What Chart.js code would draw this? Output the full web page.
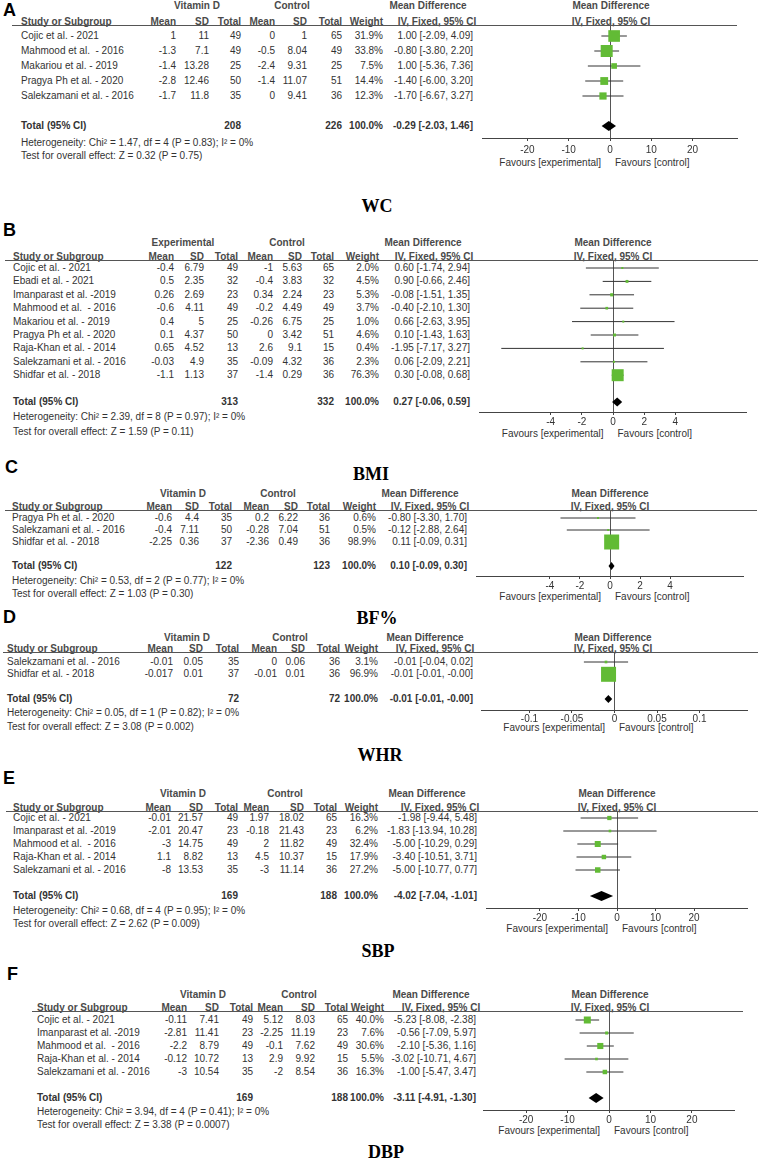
<!DOCTYPE html>
<html><head><meta charset="utf-8">
<script src="https://cdn.jsdelivr.net/npm/chart.js@4.4.1/dist/chart.umd.min.js"></script>
<style>
html,body{margin:0;padding:0;background:#fff;}
#root{position:relative;width:758px;height:1160px;overflow:hidden;background:#fff;font-family:"Liberation Sans",Arial,sans-serif;}
.t{position:absolute;white-space:pre;font-size:10px;line-height:12px;color:#333;}
.b{font-weight:bold;}
.h{font-weight:bold;color:#4a4a4a;}
.letter{font-size:18px;line-height:20px;font-weight:bold;color:#000;}
.title{font-family:"Liberation Serif","Times New Roman",serif;font-size:18px;line-height:20px;font-weight:bold;color:#000;}
.hl{position:absolute;height:1px;background:#555;}
</style></head>
<body><div id="root"></div>
<script>
// ---------------- DATA ----------------
// Panel A : WC
const wcStudies = ["Cojic et al. - 2021","Mahmood et al.  - 2016","Makariou et al. - 2019","Pragya Ph et al. - 2020","Salekzamani et al. - 2016"];
const wcVitMean = [1, -1.3, -1.4, -2.8, -1.7];
const wcVitSD   = [11, 7.1, 13.28, 12.46, 11.8];
const wcVitN    = [49, 49, 25, 50, 35];
const wcCtlMean = [0, -0.5, -2.4, -1.4, 0];
const wcCtlSD   = [1, 8.04, 9.31, 11.07, 9.41];
const wcCtlN    = [65, 49, 25, 51, 36];
const wcWeight  = [31.9, 33.8, 7.5, 14.4, 12.3];
const wcMD      = [1.00, -0.80, 1.00, -1.40, -1.70];
const wcLow     = [-2.09, -3.80, -5.36, -6.00, -6.67];
const wcHigh    = [4.09, 2.20, 7.36, 3.20, 3.27];
const wcTotal   = [-0.29, -2.03, 1.46];
const wcTotN    = [208, 226];
const wcHet     = "Heterogeneity: Chi\u00B2 = 1.47, df = 4 (P = 0.83); I\u00B2 = 0%";
const wcTest    = "Test for overall effect: Z = 0.32 (P = 0.75)";
const wcTicks   = [-20, -10, 0, 10, 20];

// Panel B : BMI
const bmiStudies = ["Cojic et al. - 2021","Ebadi et al. - 2021","Imanparast et al. -2019","Mahmood et al.  - 2016","Makariou et al. - 2019","Pragya Ph et al. - 2020","Raja-Khan et al. - 2014","Salekzamani et al. - 2016","Shidfar et al. - 2018"];
const bmiVitMean = [-0.4, 0.5, 0.26, -0.6, 0.4, 0.1, 0.65, -0.03, -1.1];
const bmiVitSD   = [6.79, 2.35, 2.69, 4.11, 5, 4.37, 4.52, 4.9, 1.13];
const bmiVitN    = [49, 32, 23, 49, 25, 50, 13, 35, 37];
const bmiCtlMean = [-1, -0.4, 0.34, -0.2, -0.26, 0, 2.6, -0.09, -1.4];
const bmiCtlSD   = [5.63, 3.83, 2.24, 4.49, 6.75, 3.42, 9.1, 4.32, 0.29];
const bmiCtlN    = [65, 32, 23, 49, 25, 51, 15, 36, 36];
const bmiWeight  = [2.0, 4.5, 5.3, 3.7, 1.0, 4.6, 0.4, 2.3, 76.3];
const bmiMD      = [0.60, 0.90, -0.08, -0.40, 0.66, 0.10, -1.95, 0.06, 0.30];
const bmiLow     = [-1.74, -0.66, -1.51, -2.10, -2.63, -1.43, -7.17, -2.09, -0.08];
const bmiHigh    = [2.94, 2.46, 1.35, 1.30, 3.95, 1.63, 3.27, 2.21, 0.68];
const bmiTotal   = [0.27, -0.06, 0.59];
const bmiTotN    = [313, 332];
const bmiHet     = "Heterogeneity: Chi\u00B2 = 2.39, df = 8 (P = 0.97); I\u00B2 = 0%";
const bmiTest    = "Test for overall effect: Z = 1.59 (P = 0.11)";
const bmiTicks   = [-4, -2, 0, 2, 4];

// Panel C : BF%
const bfStudies = ["Pragya Ph et al. - 2020","Salekzamani et al. - 2016","Shidfar et al. - 2018"];
const bfVitMean = [-0.6, -0.4, -2.25];
const bfVitSD   = [4.4, 7.11, 0.36];
const bfVitN    = [35, 50, 37];
const bfCtlMean = [0.2, -0.28, -2.36];
const bfCtlSD   = [6.22, 7.04, 0.49];
const bfCtlN    = [36, 51, 36];
const bfWeight  = [0.6, 0.5, 98.9];
const bfMD      = [-0.80, -0.12, 0.11];
const bfLow     = [-3.30, -2.88, -0.09];
const bfHigh    = [1.70, 2.64, 0.31];
const bfTotal   = [0.10, -0.09, 0.30];
const bfTotN    = [122, 123];
const bfHet     = "Heterogeneity: Chi\u00B2 = 0.53, df = 2 (P = 0.77); I\u00B2 = 0%";
const bfTest    = "Test for overall effect: Z = 1.03 (P = 0.30)";
const bfTicks   = [-4, -2, 0, 2, 4];

// Panel D : WHR
const whrStudies = ["Salekzamani et al. - 2016","Shidfar et al. - 2018"];
const whrVitMean = [-0.01, -0.017];
const whrVitSD   = [0.05, 0.01];
const whrVitN    = [35, 37];
const whrCtlMean = [0, -0.01];
const whrCtlSD   = [0.06, 0.01];
const whrCtlN    = [36, 36];
const whrWeight  = [3.1, 96.9];
const whrMD      = [-0.010, -0.007];
const whrLow     = [-0.036, -0.012];
const whrHigh    = [0.016, -0.002];
const whrTotal   = [-0.0072, -0.0117, -0.0027];
const whrTotN    = [72, 72];
const whrHet     = "Heterogeneity: Chi\u00B2 = 0.05, df = 1 (P = 0.82); I\u00B2 = 0%";
const whrTest    = "Test for overall effect: Z = 3.08 (P = 0.002)";
const whrTicks   = [-0.1, -0.05, 0, 0.05, 0.1];

// Panel E : SBP
const sbpStudies = ["Cojic et al. - 2021","Imanparast et al. -2019","Mahmood et al.  - 2016","Raja-Khan et al. - 2014","Salekzamani et al. - 2016"];
const sbpVitMean = [-0.01, -2.01, -3, 1.1, -8];
const sbpVitSD   = [21.57, 20.47, 14.75, 8.82, 13.53];
const sbpVitN    = [49, 23, 49, 13, 35];
const sbpCtlMean = [1.97, -0.18, 2, 4.5, -3];
const sbpCtlSD   = [18.02, 21.43, 11.82, 10.37, 11.14];
const sbpCtlN    = [65, 23, 49, 15, 36];
const sbpWeight  = [16.3, 6.2, 32.4, 17.9, 27.2];
const sbpMD      = [-1.98, -1.83, -5.00, -3.40, -5.00];
const sbpLow     = [-9.44, -13.94, -10.29, -10.51, -10.77];
const sbpHigh    = [5.48, 10.28, 0.29, 3.71, 0.77];
const sbpTotal   = [-4.02, -7.04, -1.01];
const sbpTotN    = [169, 188];
const sbpHet     = "Heterogeneity: Chi\u00B2 = 0.68, df = 4 (P = 0.95); I\u00B2 = 0%";
const sbpTest    = "Test for overall effect: Z = 2.62 (P = 0.009)";
const sbpTicks   = [-20, -10, 0, 10, 20];

// Panel F : DBP
const dbpStudies = ["Cojic et al. - 2021","Imanparast et al. -2019","Mahmood et al.  - 2016","Raja-Khan et al. - 2014","Salekzamani et al. - 2016"];
const dbpVitMean = [-0.11, -2.81, -2.2, -0.12, -3];
const dbpVitSD   = [7.41, 11.41, 8.79, 10.72, 10.54];
const dbpVitN    = [49, 23, 49, 13, 35];
const dbpCtlMean = [5.12, -2.25, -0.1, 2.9, -2];
const dbpCtlSD   = [8.03, 11.19, 7.62, 9.92, 8.54];
const dbpCtlN    = [65, 23, 49, 15, 36];
const dbpWeight  = [40.0, 7.6, 30.6, 5.5, 16.3];
const dbpMD      = [-5.23, -0.56, -2.10, -3.02, -1.00];
const dbpLow     = [-8.08, -7.09, -5.36, -10.71, -5.47];
const dbpHigh    = [-2.38, 5.97, 1.16, 4.67, 3.47];
const dbpTotal   = [-3.11, -4.91, -1.30];
const dbpTotN    = [169, 188];
const dbpHet     = "Heterogeneity: Chi\u00B2 = 3.94, df = 4 (P = 0.41); I\u00B2 = 0%";
const dbpTest    = "Test for overall effect: Z = 3.38 (P = 0.0007)";
const dbpTicks   = [-20, -10, 0, 10, 20];

// ---------------- LAYOUT ----------------
const panels = [
 {letter:'A', title:'WC', groups:['Vitamin D','Control'], studies:wcStudies, vm:wcVitMean, vs:wcVitSD, vn:wcVitN, cm:wcCtlMean, cs:wcCtlSD, cn:wcCtlN, w:wcWeight, md:wcMD, lo:wcLow, hi:wcHigh, tot:wcTotal, totN:wcTotN, het:wcHet, test:wcTest, ticks:wcTicks,
  L:{letterX:3, letterY:10, titleX:377, titleY:206, grpY:6, lineY:25, lineX0:12, lineX1:737, r0:36, s:15, totIdx:6, hetY:143, testY:156, axisY:138, tickOff:12, favY:163, x0:21, cols:[176,209,241,275,307,342,383,473], grpX:[197,292], mdH:[428,437], fZero:610, ppu:4.125, half:31, fH:611, box:12, dH:5}},
 {letter:'B', title:'BMI', groups:['Experimental','Control'], studies:bmiStudies, vm:bmiVitMean, vs:bmiVitSD, vn:bmiVitN, cm:bmiCtlMean, cs:bmiCtlSD, cn:bmiCtlN, w:bmiWeight, md:bmiMD, lo:bmiLow, hi:bmiHigh, tot:bmiTotal, totN:bmiTotN, het:bmiHet, test:bmiTest, ticks:bmiTicks,
  L:{letterX:3, letterY:230, titleX:371, titleY:474, grpY:243, lineY:260, lineX0:5, lineX1:758, r0:268, s:13.4, totIdx:10, hetY:417, testY:432, axisY:412, tickOff:10, favY:434, x0:13, cols:[174,204,238,273,302,334,379,470], grpX:[183,287], mdH:[423,434], fZero:612.5, ppu:15.6, half:8.6, fH:613, box:12, dH:4.5}},
 {letter:'C', title:'BF%', groups:['Vitamin D','Control'], studies:bfStudies, vm:bfVitMean, vs:bfVitSD, vn:bfVitN, cm:bfCtlMean, cs:bfCtlSD, cn:bfCtlN, w:bfWeight, md:bfMD, lo:bfLow, hi:bfHigh, tot:bfTotal, totN:bfTotN, het:bfHet, test:bfTest, ticks:bfTicks,
  L:{letterX:5, letterY:467, titleX:377, titleY:618, grpY:494, lineY:510, lineX0:5, lineX1:757, r0:518, s:12, totIdx:4, hetY:581, testY:594, axisY:576, tickOff:10, favY:597, x0:12, cols:[172,199,232,269,298,330,376,467], grpX:[183,278], mdH:[420,430], fZero:610, ppu:15, half:8.93, fH:610, box:15, dH:4}},
 {letter:'D', title:'WHR', groups:['Vitamin D','Control'], studies:whrStudies, vm:whrVitMean, vs:whrVitSD, vn:whrVitN, cm:whrCtlMean, cs:whrCtlSD, cn:whrCtlN, w:whrWeight, md:whrMD, lo:whrLow, hi:whrHigh, tot:whrTotal, totN:whrTotN, het:whrHet, test:whrTest, ticks:whrTicks,
  L:{letterX:3, letterY:617, titleX:380, titleY:755, grpY:638, lineY:652, lineX0:3, lineX1:758, r0:662, s:12.3, totIdx:3, hetY:713, testY:727, axisY:710, tickOff:9, favY:728, x0:7, cols:[173,203,239,277,305,340,378,473], grpX:[187,290], mdH:[425,435], fZero:614, ppu:850, half:0.157, fH:613, box:15, dH:4}},
 {letter:'E', title:'SBP', groups:['Vitamin D','Control'], studies:sbpStudies, vm:sbpVitMean, vs:sbpVitSD, vn:sbpVitN, cm:sbpCtlMean, cs:sbpCtlSD, cn:sbpCtlN, w:sbpWeight, md:sbpMD, lo:sbpLow, hi:sbpHigh, tot:sbpTotal, totN:sbpTotN, het:sbpHet, test:sbpTest, ticks:sbpTicks,
  L:{letterX:3, letterY:778, titleX:378, titleY:951, grpY:794, lineY:811, lineX0:6, lineX1:758, r0:818, s:13, totIdx:6, hetY:911, testY:924, axisY:908, tickOff:10, favY:929, x0:13, cols:[171,203,238,269,304,337,378,477], grpX:[183,285], mdH:[427,440], fZero:617, ppu:3.85, half:34, fH:617, box:6, dH:5}},
 {letter:'F', title:'DBP', groups:['Vitamin D','Control'], studies:dbpStudies, vm:dbpVitMean, vs:dbpVitSD, vn:dbpVitN, cm:dbpCtlMean, cs:dbpCtlSD, cn:dbpCtlN, w:dbpWeight, md:dbpMD, lo:dbpLow, hi:dbpHigh, tot:dbpTotal, totN:dbpTotN, het:dbpHet, test:dbpTest, ticks:dbpTicks,
  L:{letterX:7, letterY:974, titleX:386, titleY:1152, grpY:995, lineY:1011, lineX0:32, lineX1:743, r0:1020, s:13, totIdx:6, hetY:1112, testY:1125, axisY:1110, tickOff:10, favY:1131, x0:37, cols:[187,219,253,283,315,348,384,476], grpX:[203,299], mdH:[431,441], fZero:609, ppu:4.15, half:30.4, fH:610, box:7, dH:5}}
];

// ---------------- RENDER ----------------
Chart.defaults.font.family = '"Liberation Sans", Arial, sans-serif';
Chart.defaults.font.size = 10;
Chart.defaults.color = '#333';

const root = document.getElementById('root');
function txt(s, x, y, align, cls, lh) {
  const d = document.createElement('div');
  d.className = 't' + (cls ? ' ' + cls : '');
  d.textContent = s;
  const h = lh || 12;
  d.style.left = x + 'px';
  d.style.top = (y - h / 2) + 'px';
  if (align === 'r') d.style.transform = 'translateX(-100%)';
  else if (align === 'c') d.style.transform = 'translateX(-50%)';
  root.appendChild(d);
  return d;
}
function fmtCI(m, lo, hi) { return m.toFixed(2) + ' [' + lo.toFixed(2) + ', ' + hi.toFixed(2) + ']'; }

panels.forEach(p => {
  const L = p.L;
  txt(p.letter, L.letterX, L.letterY, 'l', 'letter', 20);
  txt(p.title, L.titleX, L.titleY, 'c', 'title', 20);
  // group headers
  txt(p.groups[0], L.grpX[0], L.grpY, 'c', 'h');
  txt(p.groups[1], L.grpX[1], L.grpY, 'c', 'h');
  txt('Mean Difference', L.mdH[0], L.grpY, 'c', 'h');
  txt('Mean Difference', L.fH, L.grpY, 'c', 'h');
  // column headers
  const hy = L.lineY - 3.5;
  txt('Study or Subgroup', L.x0, hy, 'l', 'h');
  ['Mean','SD','Total','Mean','SD','Total','Weight'].forEach((c, i) => txt(c, L.cols[i], hy, 'r', 'h'));
  txt('IV, Fixed, 95% CI', L.mdH[1], hy, 'c', 'h');
  txt('IV, Fixed, 95% CI', L.fH, hy, 'c', 'h');
  const line = document.createElement('div');
  line.className = 'hl';
  line.style.left = L.lineX0 + 'px';
  line.style.top = L.lineY + 'px';
  line.style.width = (L.lineX1 - L.lineX0) + 'px';
  root.appendChild(line);
  // rows
  p.studies.forEach((st, i) => {
    const y = L.r0 + i * L.s;
    txt(st, L.x0, y, 'l');
    const vals = [p.vm[i], p.vs[i], p.vn[i], p.cm[i], p.cs[i], p.cn[i]].map(String);
    vals.push(p.w[i].toFixed(1) + '%');
    vals.forEach((v, k) => txt(v, L.cols[k], y, 'r'));
    txt(fmtCI(p.md[i], p.lo[i], p.hi[i]), L.cols[7], y, 'r');
  });
  const ty = L.r0 + L.totIdx * L.s;
  txt('Total (95% CI)', L.x0, ty, 'l', 'b');
  txt(String(p.totN[0]), L.cols[2], ty, 'r', 'b');
  txt(String(p.totN[1]), L.cols[5], ty, 'r', 'b');
  txt('100.0%', L.cols[6], ty, 'r', 'b');
  txt(fmtCI(p.tot[0], p.tot[1], p.tot[2]), L.cols[7], ty, 'r', 'b');
  txt(p.het, L.x0, L.hetY, 'l');
  txt(p.test, L.x0, L.testY, 'l');
  txt('Favours [experimental]', L.fZero - 9, L.favY, 'r');
  txt('Favours [control]', L.fZero + 5, L.favY, 'l');

  // forest plot chart
  const tl = 3, pad = Math.max(0, L.tickOff - 9);
  const w = Math.round(2 * L.half * L.ppu);
  const left = Math.round(L.fZero - w / 2);
  const h = (L.axisY - L.lineY) + tl + 2 * pad + 12;
  const c = document.createElement('canvas');
  c.width = w; c.height = h;
  c.style.cssText = 'position:absolute;left:' + left + 'px;top:' + L.lineY + 'px;width:' + w + 'px;height:' + h + 'px;';
  root.appendChild(c);

  const wmax = Math.max.apply(null, p.w);
  const datasets = [{
    type: 'scatter',
    data: p.md.map((m, i) => ({x: m, y: i})),
    pointStyle: 'rect',
    pointRadius: p.w.map(v => Math.max(2, L.box * Math.sqrt(v / wmax)) / Math.SQRT2),
    pointBackgroundColor: '#62bb35',
    pointBorderWidth: 0,
    pointBorderColor: '#62bb35',
    clip: false,
    order: 0
  }];
  p.md.forEach((m, i) => {
    datasets.push({
      type: 'line',
      data: [{x: p.lo[i], y: i}, {x: p.hi[i], y: i}],
      borderColor: '#333', borderWidth: 1, pointRadius: 0, fill: false, clip: false, order: 1
    });
  });
  const diamond = {
    id: 'diamond',
    afterDatasetsDraw(chart) {
      const xs = chart.scales.x, ys = chart.scales.y, ctx = chart.ctx;
      let xm = xs.getPixelForValue(p.tot[0]);
      let xl = xs.getPixelForValue(p.tot[1]);
      let xr = xs.getPixelForValue(p.tot[2]);
      if (xr - xl < 6) { xl = xm - 3; xr = xm + 3; }
      const y = ys.getPixelForValue(L.totIdx);
      ctx.save();
      ctx.fillStyle = '#000';
      ctx.beginPath();
      ctx.moveTo(xl, y); ctx.lineTo(xm, y - L.dH); ctx.lineTo(xr, y); ctx.lineTo(xm, y + L.dH);
      ctx.closePath(); ctx.fill();
      ctx.restore();
    }
  };
  new Chart(c, {
    type: 'scatter',
    data: {datasets},
    plugins: [diamond],
    options: {
      responsive: false, animation: false, devicePixelRatio: 1,
      layout: {padding: 0, autoPadding: false},
      plugins: {legend: {display: false}, tooltip: {enabled: false}},
      events: [],
      scales: {
        x: {
          type: 'linear', min: -L.half, max: L.half, bounds: 'data',
          afterBuildTicks: s => { s.ticks = p.ticks.map(v => ({value: v})); },
          ticks: {callback: (v, i) => String(p.ticks[i]), padding: pad, color: '#333', autoSkip: false, maxRotation: 0, font: {size: 10}},
          grid: {color: ctx => (ctx.tick && ctx.tick.value === 0) ? '#555' : 'rgba(0,0,0,0)', tickColor: '#444', tickLength: tl, drawTicks: true, lineWidth: 1},
          border: {display: true, color: '#444', width: 1}
        },
        y: {type: 'linear', display: false, reverse: true, bounds: 'data', min: (L.lineY - L.r0) / L.s, max: (L.axisY - L.r0) / L.s}
      }
    }
  });
});
</script>
</body></html>
